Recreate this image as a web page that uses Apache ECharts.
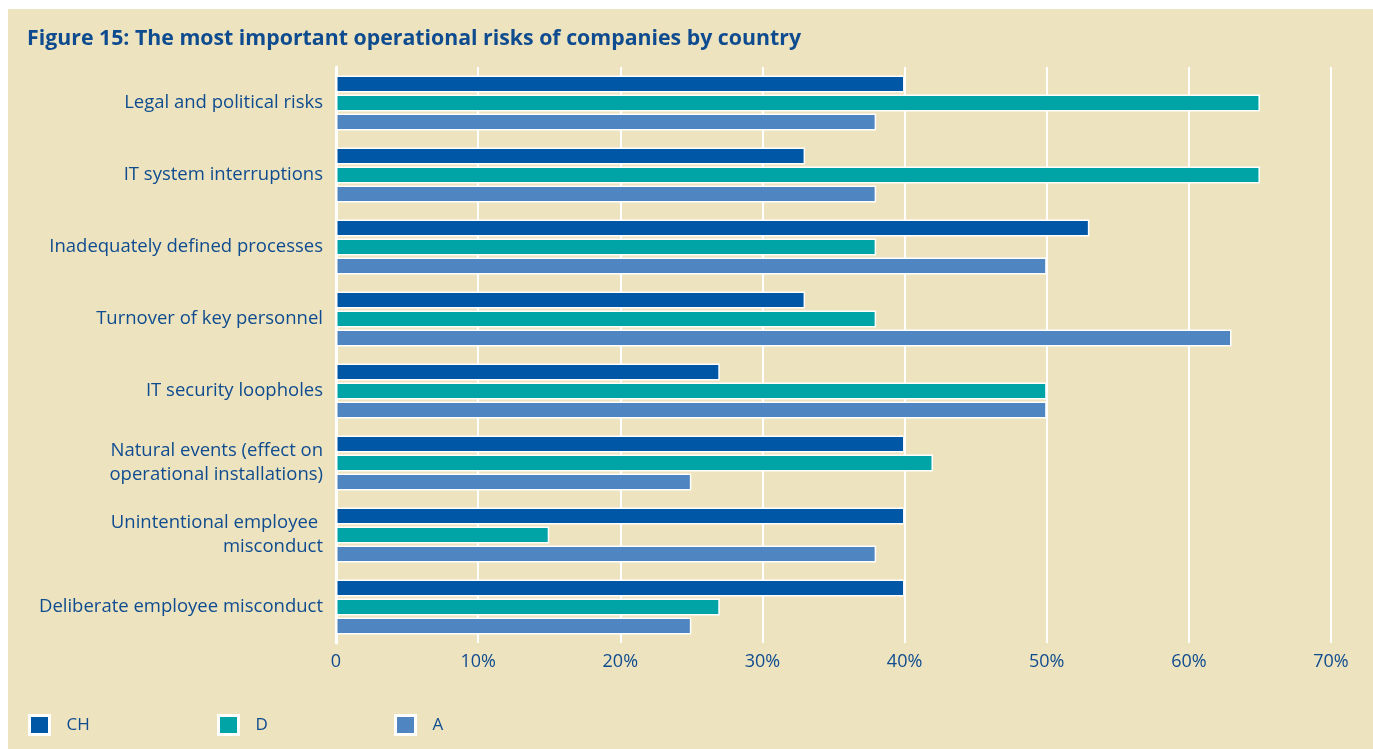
<!DOCTYPE html>
<html>
<head>
<meta charset="utf-8">
<script src="https://cdn.jsdelivr.net/npm/echarts@6/dist/echarts.min.js"></script>
<style>
  html, body { margin: 0; padding: 0; background: #ffffff; }
  #panel {
    position: absolute; left: 8px; top: 9px; right: 0; bottom: 0;
    background: #ede3bf;
  }
  #chart { position: absolute; left: 0; top: 0; width: 1373px; height: 749px; }
</style>
</head>
<body>
<div id="panel"></div>
<div id="chart"></div>
<script>
const categories = [
  'Legal and political risks',
  'IT system interruptions',
  'Inadequately defined processes',
  'Turnover of key personnel',
  'IT security loopholes',
  'Natural events (effect on\noperational installations)',
  'Unintentional employee \nmisconduct',
  'Deliberate employee misconduct'
]
const chValues = [40, 33, 53, 33, 27, 40, 40, 40]
const dValues  = [65, 65, 38, 38, 50, 42, 15, 27]
const aValues  = [38, 38, 50, 63, 50, 25, 38, 25]
const xTicks = [0, 10, 20, 30, 40, 50, 60, 70]

const textBlue = '#0f4c8f'
const colors = { CH: '#0057a5', D: '#00a4a6', A: '#4f86c1' }
const font = '"Open Sans", "Noto Sans", sans-serif'

const chart = echarts.init(document.getElementById('chart'))

const makeSeries = (name, values) => ({
  name,
  type: 'bar',
  data: values,
  barWidth: 17,
  barGap: '12%',
  itemStyle: {
    color: colors[name],
    borderColor: '#ffffff',
    borderWidth: 1.5
  },
  silent: true
})

const makeLegend = (name, left) => ({
  data: [name],
  left,
  top: 714,
  padding: 0,
  itemWidth: 20,
  itemHeight: 19,
  icon: 'rect',
  itemStyle: { borderColor: '#ffffff', borderWidth: 3 },
  textStyle: { color: textBlue, fontSize: 17, fontFamily: font, padding: [0, 0, 0, 12] },
  selectedMode: false
})

chart.setOption({
  backgroundColor: 'transparent',
  animation: false,
  title: {
    text: 'Figure 15: The most important operational risks of companies by country',
    left: 27,
    top: 28,
    padding: 0,
    textStyle: { color: textBlue, fontSize: 21.3, fontWeight: 'bold', fontFamily: font }
  },
  legend: [
    makeLegend('CH', 28),
    makeLegend('D', 217),
    makeLegend('A', 394)
  ],
  grid: { left: 336, right: 42, top: 67, bottom: 106 },
  xAxis: {
    type: 'value',
    min: 0,
    max: 70,
    interval: 10,
    axisLine: { show: false },
    axisTick: { show: false },
    axisLabel: {
      color: textBlue,
      fontSize: 18,
      fontFamily: font,
      margin: 10,
      formatter: v => (xTicks.includes(v) ? (v === 0 ? '0' : v + '%') : '')
    },
    splitLine: { show: true, lineStyle: { color: '#ffffff', width: 2 } }
  },
  yAxis: {
    type: 'category',
    data: categories,
    inverse: true,
    axisLine: { show: true, lineStyle: { color: '#ffffff', width: 3 } },
    axisTick: { show: false },
    axisLabel: {
      color: textBlue,
      fontSize: 18.5,
      fontFamily: font,
      margin: 13,
      lineHeight: 24,
      align: 'right'
    }
  },
  series: [
    makeSeries('CH', chValues),
    makeSeries('D', dValues),
    makeSeries('A', aValues)
  ]
})
</script>
</body>
</html>
